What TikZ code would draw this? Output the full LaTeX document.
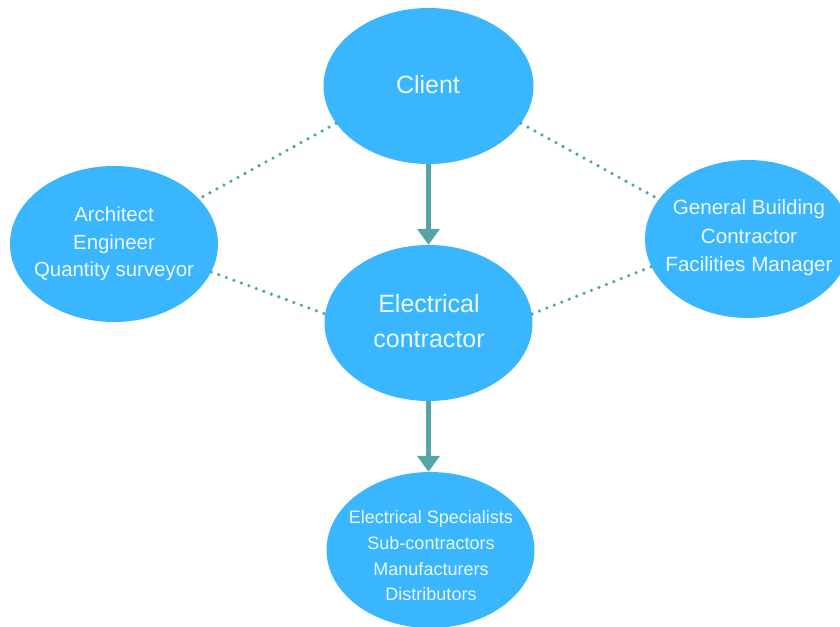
\documentclass[tikz,border=0pt]{standalone}
\usepackage{fontspec}
\setmainfont{Liberation Sans}
\usetikzlibrary{shapes.geometric,arrows.meta}
\definecolor{blobfill}{RGB}{58,182,255}
\definecolor{linkcol}{RGB}{88,164,164}
\definecolor{txtcol}{RGB}{236,247,255}
\begin{document}
\begin{tikzpicture}[x=1pt,y=-1pt,
  blob/.style={ellipse,fill=blobfill,draw=none,inner sep=0pt,minimum width=#1},
  blob/.default=208pt,
  lbl/.style={text=txtcol,align=center,inner sep=0pt},
  mainarrow/.style={draw=linkcol,line width=5pt,-{Triangle[width=22pt,length=16pt]}},
  dotlink/.style={draw=linkcol,line width=3.6pt,line cap=round,dash pattern=on 0pt off 8pt}]
\useasboundingbox (0,0) rectangle (840,626);
\begin{scope}
\clip (0,0) rectangle (840,626);
\node[blob=210pt,minimum height=156pt] (client) at (428.5,86) {};
\node[blob,minimum height=156pt] (arch) at (114,244) {};
\node[blob,minimum height=156pt] (ec) at (428.5,323) {};
\node[blob=206pt,minimum height=158pt] (gb) at (748,239) {};
\node[blob,minimum height=156pt] (sub) at (430.5,550) {};
\end{scope}
\node[lbl,font=\fontsize{25}{35}\selectfont] (clientt) at (428,85) {Client};
\node[lbl,font=\fontsize{25}{35}\selectfont] (ect) at (429,321) {Electrical\\contractor};
\node[lbl,font=\fontsize{20.4}{27.5}\selectfont] (archt) at (114,244) {Architect\\Engineer\\Quantity surveyor};
\node[lbl,font=\fontsize{20.6}{28.5}\selectfont] (gbt) at (749,238) {General Building\\Contractor\\Facilities Manager};
\node[lbl,font=\fontsize{18}{25.7}\selectfont] (subt) at (431,556) {Electrical Specialists\\Sub-contractors\\Manufacturers\\Distributors};
\draw[mainarrow] (client) -- (ec);
\draw[mainarrow] (ec.south) -- (ec.south |- sub.north);
\draw[dotlink] (client.202) -- (arch.28);
\draw[dotlink] (arch.-16) -- (ec.175);
\draw[dotlink] (ec.5) -- (gb.196);
\draw[dotlink] (client.-22) -- (gb.156);
\end{tikzpicture}
\end{document}
